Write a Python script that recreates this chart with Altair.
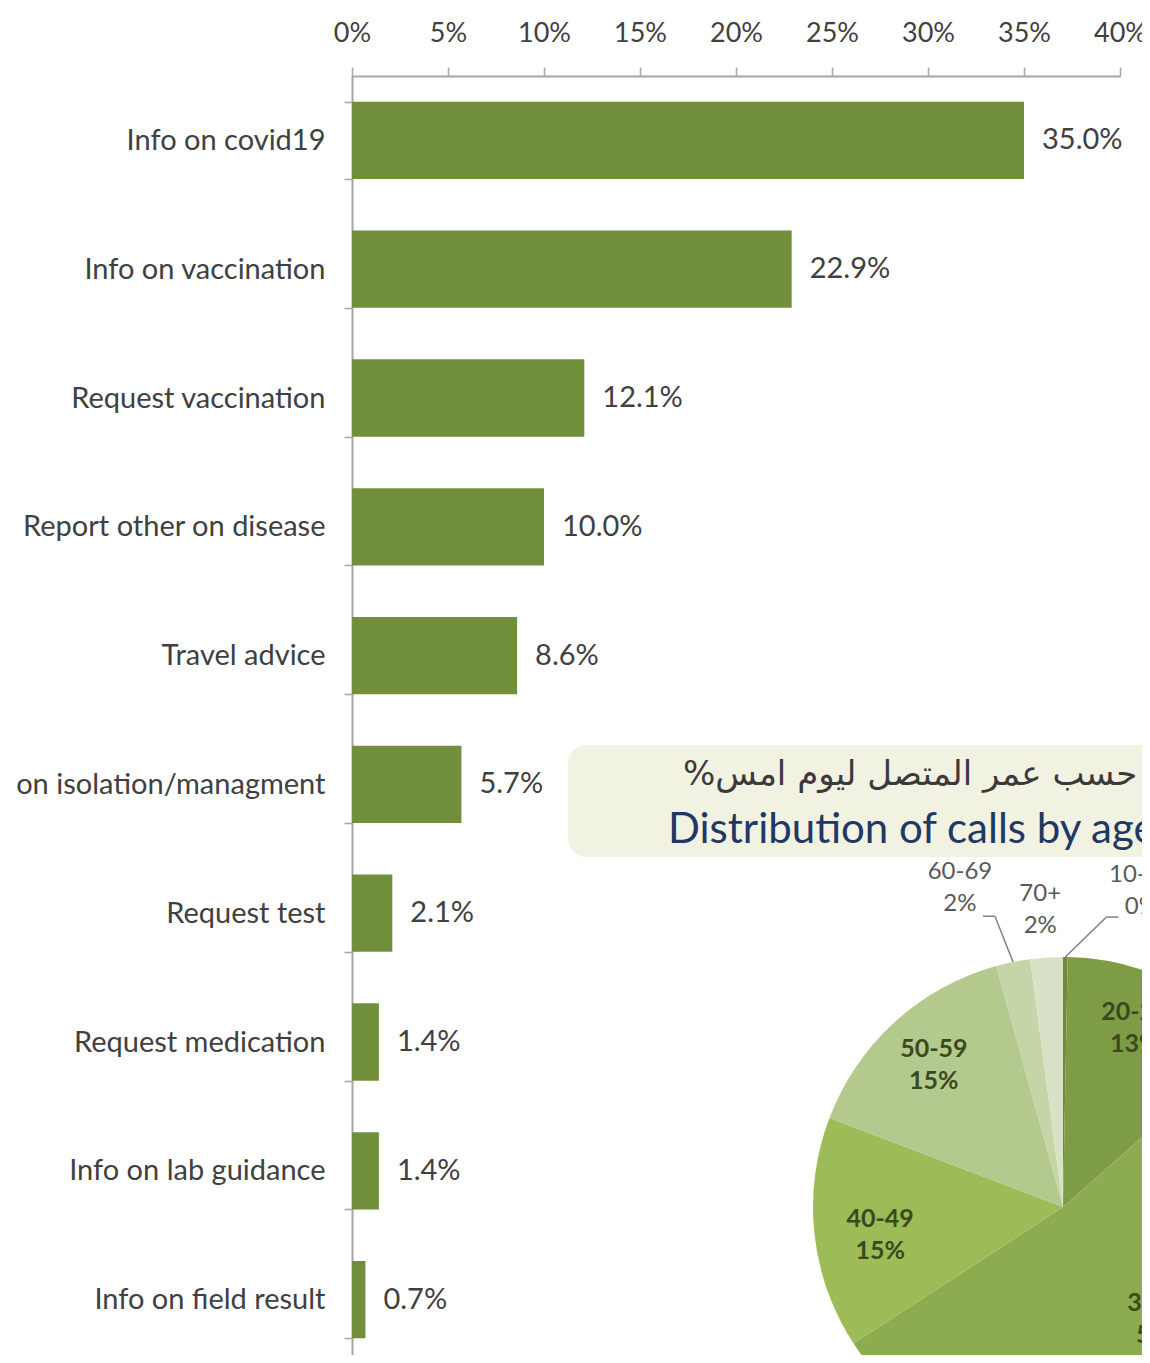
import math
import altair as alt
import pandas as pd

# ---------------- data ----------------
categories = ["Info on covid19", "Info on vaccination", "Request vaccination",
              "Report other on disease", "Travel advice", "Info on isolation/managment",
              "Request test", "Request medication", "Info on lab guidance",
              "Info on field result"]
shares = [35.0, 22.9, 12.1, 10.0, 8.6, 5.7, 2.1, 1.4, 1.4, 0.7]
x_ticks = [0, 5, 10, 15, 20, 25, 30, 35, 40]

age_groups = ["10-19", "20-29", "30-39", "40-49", "50-59", "60-69", "70+"]
age_shares = [0.3, 13.2, 52.3, 15.0, 14.9, 2.2, 2.1]
age_labels = ["0%", "13%", "52%", "15%", "15%", "2%", "2%"]
age_colors = ["#6f8a3a", "#7e9b46", "#8dab4f", "#9dbb57", "#b3c98d", "#c6d5a8", "#d8e2c6"]

title_ar = "%توزيع المكالمات حسب عمر المتصل ليوم امس"
title_en = "Distribution of calls by age group"

# ---------------- layout ----------------
FONT = "Lato"
PAD_L, PAD_T, PAD_R = 344, 68, 22
VIEW_W, VIEW_H = 768, 1279
BAND_RANGE = 1288
CX, CY, R = 711, 1131, 250
LINE_H = 32
# label placement: (angle offset from slice middle in degrees, distance from centre)
inside_geom = {"20-29": (-3, 193), "30-39": (-3.8, 149), "40-49": (-2.6, 185), "50-59": (0, 192)}
outside_geom = {"60-69": (-6.4, 335), "70+": (-0.6, 298), "10-19": (13.4, 325.5)}
leader_for = {"60-69": (23, 28, 12), "10-19": (-23, 26, -12)}

one = pd.DataFrame({"k": [0]})

# ---------------- bars ----------------
bars_df = pd.DataFrame({"category": categories, "share": shares})
bars_df["label"] = [f"{v:.1f}%" for v in shares]

xscale = alt.Scale(domain=[0, 40], range=[0, VIEW_W], nice=False)
yscale = alt.Scale(domain=categories, range=[0, BAND_RANGE], paddingInner=0.4, paddingOuter=0.2)

base = alt.Chart(bars_df).encode(
    x=alt.X("share:Q", scale=xscale,
            axis=alt.Axis(orient="top", values=x_ticks, labelExpr="datum.value + '%'",
                          title=None, grid=False, tickSize=9, labelFontSize=27,
                          labelFont=FONT, labelColor="#404040", labelPadding=20,
                          labelFlush=False, domainColor="#a6a6a6", domainWidth=2,
                          tickColor="#a6a6a6", tickWidth=1.5)),
    y=alt.Y("category:N", sort=categories, scale=yscale,
            axis=alt.Axis(title=None, tickBand="extent", tickSize=8, labelFontSize=29,
                          labelFont=FONT, labelColor="#404040", labelPadding=19,
                          labelLimit=2000, domainColor="#a6a6a6", domainWidth=2,
                          tickColor="#a6a6a6", tickWidth=1.5)),
)
bars = base.mark_bar(color="#718f3a")
bar_text = base.mark_text(align="left", baseline="middle", dx=18, font=FONT,
                          fontSize=29, color="#404040").encode(text="label:N")

# ---------------- title box ----------------
title_box = alt.Chart(one).mark_rect(cornerRadius=18, color="#f2f2e3").encode(
    x=alt.value(216), x2=alt.value(900), y=alt.value(669), y2=alt.value(781))
t_ar = alt.Chart(pd.DataFrame({"t": [title_ar]})).mark_text(
    align="left", baseline="middle", font="DejaVu Sans", fontSize=34, color="#3a3a3a"
).encode(x=alt.value(331), y=alt.value(699), text="t:N")
t_en = alt.Chart(pd.DataFrame({"t": [title_en]})).mark_text(
    align="left", baseline="middle", font=FONT, fontSize=42, color="#1f3864"
).encode(x=alt.value(316), y=alt.value(754), text="t:N")

# ---------------- pie ----------------
pie_df = pd.DataFrame({"age": age_groups, "share": age_shares, "pct": age_labels})
pie_df["idx"] = list(range(len(age_groups)))
pie_df["label"] = [f"{a}\n{p}" for a, p in zip(age_groups, age_labels)]

arcs = alt.Chart(pie_df).mark_arc(outerRadius=R).encode(
    theta=alt.Theta("share:Q", stack=True),
    order=alt.Order("idx:Q"),
    color=alt.Color("age:N", scale=alt.Scale(domain=age_groups, range=age_colors), legend=None),
    x=alt.value(CX), y=alt.value(CY))

# mid angles of slices (degrees) from the data
total = sum(age_shares)
mid_angle = {}
cum = 0.0
for a, s in zip(age_groups, age_shares):
    mid_angle[a] = (cum + s / 2) / total * 360
    cum += s


def polar(ang_deg, dist):
    t = math.radians(ang_deg)
    return CX + dist * math.sin(t), CY - dist * math.cos(t)


label_layers = []
for a in age_groups:
    row = pie_df[pie_df["age"] == a]
    if a in inside_geom:
        off, dist = inside_geom[a]
        px, py = polar(mid_angle[a] + off, dist)
        label_layers.append(alt.Chart(row).mark_text(
            font=FONT, fontSize=25, fontWeight="bold", color="#3b4a1c", lineBreak="\n",
            lineHeight=LINE_H, baseline="middle", dy=-LINE_H / 2).encode(
            x=alt.value(px), y=alt.value(py), text="label:N"))
    else:
        off, dist = outside_geom[a]
        px, py = polar(mid_angle[a] + off, dist)
        label_layers.append(alt.Chart(row).mark_text(
            font=FONT, fontSize=24, color="#595959", lineBreak="\n",
            lineHeight=LINE_H, baseline="middle", dy=-LINE_H / 2).encode(
            x=alt.value(px), y=alt.value(py), text="label:N"))
        if a in leader_for:
            ox, oy, hx = leader_for[a]
            x1, y1 = px + ox, py + oy
            x2, y2 = x1 + hx, y1
            x3, y3 = polar(mid_angle[a], R)
            for (ax, ay, bx, by) in [(x1, y1, x2, y2), (x2, y2, x3, y3)]:
                label_layers.append(alt.Chart(one).mark_rule(color="#808080", strokeWidth=1.5).encode(
                    x=alt.value(ax), y=alt.value(ay), x2=alt.value(bx), y2=alt.value(by)))

chart = alt.layer(bars, bar_text, title_box, t_ar, t_en, arcs, *label_layers).properties(
    width=VIEW_W, height=VIEW_H,
    autosize=alt.AutoSizeParams(type="none"),
    padding={"left": PAD_L, "top": PAD_T, "right": PAD_R, "bottom": 0},
    background="white",
).configure_view(stroke=None)

chart.save("out.html", embed_options={"renderer": "svg", "actions": False})
